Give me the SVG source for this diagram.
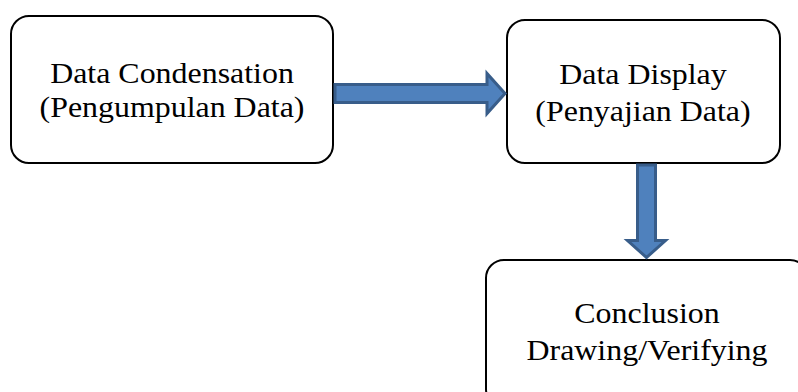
<svg xmlns="http://www.w3.org/2000/svg" width="798" height="392" viewBox="0 0 798 392">
<style>
.box{fill:#fff;stroke:#000;stroke-width:2}
.t{font-family:"Liberation Serif","Times New Roman",serif;font-size:28.5px;fill:#000;text-anchor:middle}
.arr{fill:#4F81BD;stroke:#385D8A;stroke-width:3;stroke-linejoin:miter}
</style>
<rect width="798" height="392" fill="#fff"/>
<g id="n1">
<rect class="box" x="11" y="16" width="322" height="147" rx="18"/>
<g transform="translate(172,0) scale(1.12,1)">
<text class="t" x="0" y="83">Data Condensation</text>
<text class="t" x="0" y="117">(Pengumpulan Data)</text>
</g>
</g>
<g id="n2">
<rect class="box" x="507" y="20" width="273" height="143" rx="18"/>
<g transform="translate(643,0) scale(1.12,1)">
<text class="t" x="0" y="84">Data Display</text>
<text class="t" x="0" y="121">(Penyajian Data)</text>
</g>
</g>
<g id="n3">
<rect class="box" x="486" y="260" width="322" height="147" rx="18"/>
<g transform="translate(647,0) scale(1.12,1)">
<text class="t" x="0" y="323">Conclusion</text>
<text class="t" x="0" y="360">Drawing/Verifying</text>
</g>
</g>
<g id="connectors">
<path class="arr" d="M335,84.5 H487 V73.5 L505,93.5 L487,113.5 V102.5 H335 Z"/>
<path class="arr" d="M637.5,165 V240.5 H627.5 L646.5,257.5 L665.5,240.5 H655.5 V165 Z"/>
</g>
</svg>
